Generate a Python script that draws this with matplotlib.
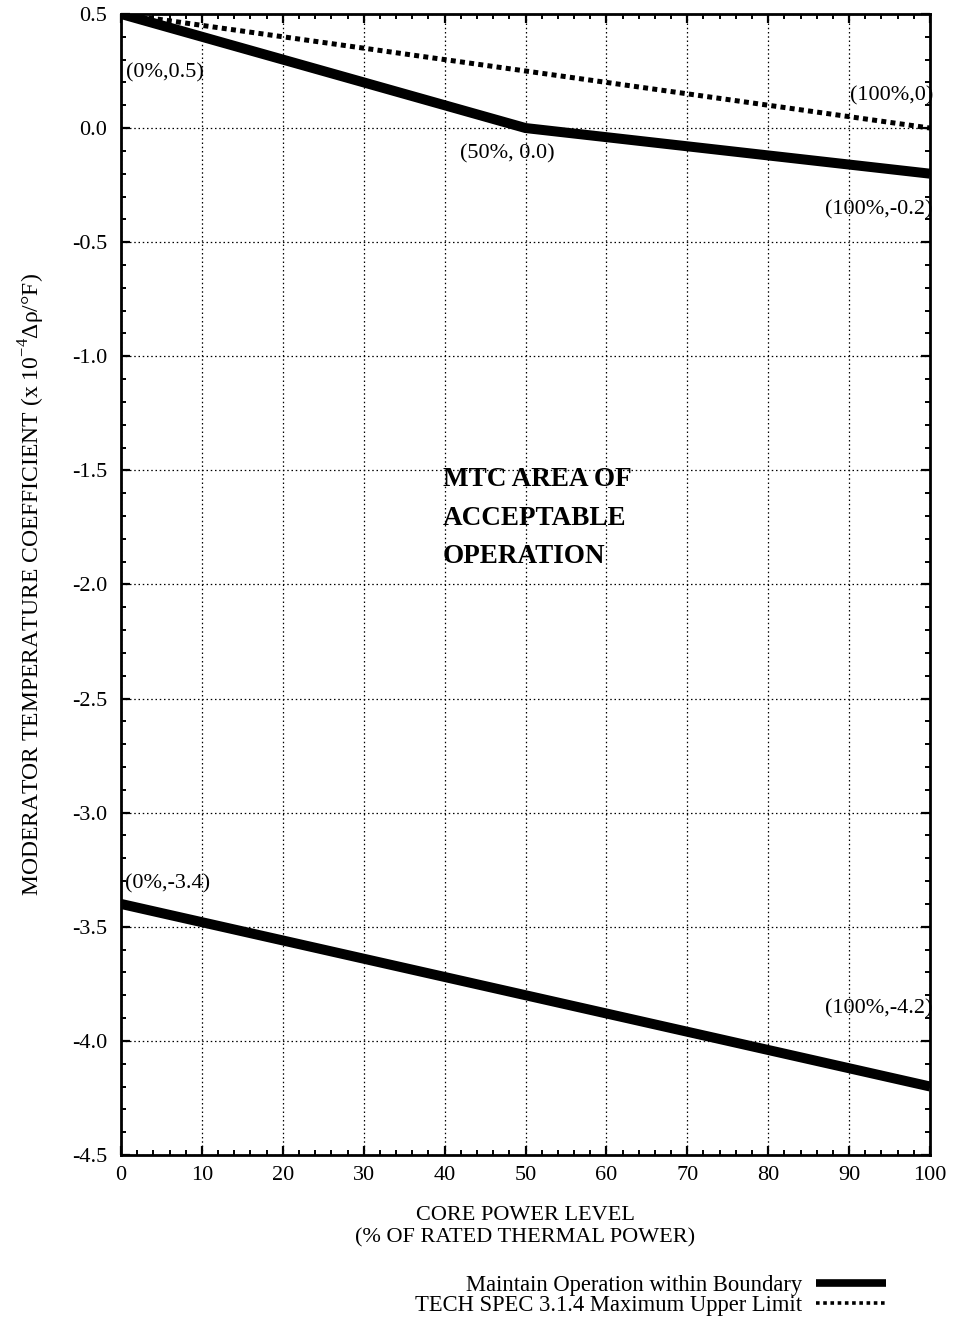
import matplotlib
matplotlib.use("Agg")
import matplotlib.pyplot as plt
from matplotlib.lines import Line2D
from matplotlib.ticker import MultipleLocator, FormatStrFormatter

plt.rcParams['font.family'] = ['Liberation Serif', 'DejaVu Serif']
plt.rcParams['axes.unicode_minus'] = False
plt.rcParams['mathtext.fontset'] = 'custom'
plt.rcParams['mathtext.rm'] = 'Liberation Serif'

# Core power (% RTP) and MTC limits (x 1e-4 dk/k per degF)
upper_power = [0, 50, 100]
upper_mtc = [0.5, 0.0, -0.2]
lower_power = [0, 100]
lower_mtc = [-3.4, -4.2]
spec_power = [0, 100]
spec_mtc = [0.5, 0.0]

point_labels = ["(0%,0.5)", "(50%, 0.0)", "(100%,-0.2)", "(100%,0)", "(0%,-3.4)", "(100%,-4.2)"]
point_xy = [(0, 0.5), (50, 0.0), (100, -0.2), (100, 0.0), (0, -3.4), (100, -4.2)]
label_offsets = [(5, -59), (-18, -26), (3, -36), (3, 32), (4, 20), (3, 78)]
label_ha = ["left", "center", "right", "right", "left", "right"]

legend_labels = ["Maintain Operation within Boundary", "TECH SPEC 3.1.4 Maximum Upper Limit"]

FS = 16

fig = plt.figure(figsize=(9.56, 13.28), dpi=100)
ax = fig.add_axes([0.1266, 0.1303, 0.9728 - 0.1266, 0.9895 - 0.1303])

ax.plot(upper_power, upper_mtc, color='black', lw=7.2, solid_capstyle='butt',
        solid_joinstyle='miter', zorder=4)
ax.plot(lower_power, lower_mtc, color='black', lw=7.2, solid_capstyle='butt', zorder=4)
ax.plot(spec_power, spec_mtc, color='black', lw=3.6, linestyle=(0, (1.0, 0.85)),
        dash_capstyle='butt', zorder=3)

ax.set_xlim(0, 100)
ax.set_ylim(-4.5, 0.5)
ax.xaxis.set_major_locator(MultipleLocator(10))
ax.xaxis.set_minor_locator(MultipleLocator(2))
ax.yaxis.set_major_locator(MultipleLocator(0.5))
ax.yaxis.set_minor_locator(MultipleLocator(0.1))
ax.yaxis.set_major_formatter(FormatStrFormatter('%.1f'))
ax.xaxis.set_major_formatter(FormatStrFormatter('%d'))

ax.tick_params(which='both', direction='in', top=True, right=True, colors='black')
ax.tick_params(which='major', length=6.5, width=1.6, labelsize=FS)
ax.tick_params(axis='x', which='major', pad=8)
ax.tick_params(axis='y', which='major', pad=10)
ax.tick_params(which='minor', length=3.8, width=1.4)
for s in ax.spines.values():
    s.set_linewidth(2.0)
    s.set_color('black')

ax.grid(True, which='major', color='black', lw=0.9, linestyle=(0, (1.2, 2.2)), zorder=1)

for txt, xy, off, ha in zip(point_labels, point_xy, label_offsets, label_ha):
    ax.annotate(txt, xy=xy, xytext=off, textcoords='offset pixels',
                ha=ha, va='center', fontsize=FS, zorder=5)

ax.text(39.8, -1.71, "MTC AREA OF\nACCEPTABLE\nOPERATION", fontsize=19.5,
        fontweight='bold', ha='left', va='center', linespacing=1.72, zorder=5)

ax.set_xlabel("CORE POWER LEVEL\n(% OF RATED THERMAL POWER)", fontsize=FS,
              labelpad=15, linespacing=1.25)
ax.set_ylabel("MODERATOR TEMPERATURE COEFFICIENT (x 10$^{-4}$Δρ/°F)",
              fontsize=17, labelpad=18)

handles = [Line2D([], [], color='black', lw=5.5, solid_capstyle='butt'),
           Line2D([], [], color='black', lw=2.6, linestyle=(0, (1.0, 1.0)),
                  dash_capstyle='butt')]
fig.legend(handles, legend_labels, loc='upper right',
           bbox_to_anchor=(886 / 956, 1 - 1275 / 1328), markerfirst=False,
           frameon=False, fontsize=16.3, handlelength=3.1, handletextpad=0.6,
           labelspacing=-0.04, borderpad=0, borderaxespad=0)

fig.savefig("out.png", dpi=100)
